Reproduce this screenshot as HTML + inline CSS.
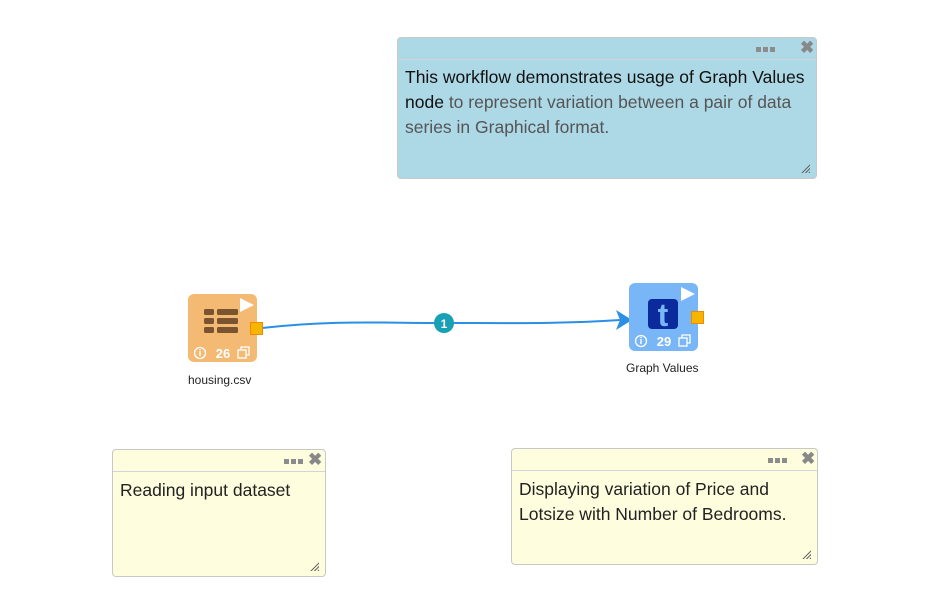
<!DOCTYPE html>
<html><head><meta charset="utf-8"><style>
body{margin:0;width:950px;height:596px;background:#fff;position:relative;overflow:hidden;font-family:"Liberation Sans",sans-serif}
.note{position:absolute;border:1px solid #c8c8c8;border-radius:4px;box-sizing:border-box}
.hdr{position:absolute;left:0;right:0;top:0;height:21px;border-bottom:1px solid #cfd6da}
.dots{position:absolute;top:9px;width:30px;height:5px;white-space:nowrap;font-size:0}
.dots i{display:inline-block;width:5px;height:5px;background:#8c8c8c;margin-right:2px}
.x{position:absolute;top:0;font-size:17px;font-weight:bold;color:#888;line-height:20px}
.txt{position:absolute;left:7px;font-size:17.5px;line-height:25px;color:#222}
.grip{position:absolute;right:6px;bottom:5px;width:9px;height:9px;background:repeating-linear-gradient(135deg,transparent 0 1.5px,#666 1.5px 2.5px);clip-path:polygon(100% 0,100% 100%,0 100%)}
.node{position:absolute;width:69px;height:68px;border-radius:6px}
.lbl{position:absolute;font-size:12px;color:#222}
</style></head><body>

<div class="note" style="left:397px;top:37px;width:420px;height:142px;background:#add8e6">
 <div class="hdr"><div class="dots" style="left:358px"><i></i><i></i><i></i></div><div class="x" style="left:402px">✖</div></div>
 <div class="txt" style="top:27px;width:410px"><span style="color:#111">This workflow demonstrates usage of Graph Values node</span> <span style="color:#555">to represent variation between a pair of data series in Graphical format.</span></div>
 <div class="grip"></div>
</div>

<div class="note" style="left:112px;top:449px;width:214px;height:128px;background:#fefdde">
 <div class="hdr"><div class="dots" style="left:171px"><i></i><i></i><i></i></div><div class="x" style="left:195px">✖</div></div>
 <div class="txt" style="top:28px">Reading input dataset</div>
 <div class="grip"></div>
</div>

<div class="note" style="left:511px;top:448px;width:307px;height:117px;background:#fefdde">
 <div class="hdr"><div class="dots" style="left:256px"><i></i><i></i><i></i></div><div class="x" style="left:289px">✖</div></div>
 <div class="txt" style="top:28px;width:295px">Displaying variation of Price and Lotsize with Number of Bedrooms.</div>
 <div class="grip"></div>
</div>

<svg width="950" height="596" style="position:absolute;left:0;top:0">
 <path d="M262 328 C 330 320, 380 323, 444 323 S 560 324, 620 320" stroke="#2b8fe6" stroke-width="2" fill="none"/>
 <polygon points="616,310 632,320 616,330 620,320" fill="#2b8fe6"/>
 <circle cx="444" cy="323" r="10" fill="#1aa0b4"/>
 <text x="444" y="328" text-anchor="middle" font-size="12" font-weight="bold" fill="#fff" font-family="Liberation Sans">1</text>
</svg>

<div class="node" style="left:188px;top:294px;background:#f4b972">
 <svg width="69" height="68" style="position:absolute;left:0;top:0">
  <polygon points="52,4 66,11 52,18" fill="#fff"/>
  <g fill="#7a5430">
   <rect x="16" y="15" width="10" height="6" rx="1.5"/><rect x="29" y="15" width="21" height="6" rx="1.5"/>
   <rect x="16" y="24" width="10" height="6" rx="1.5"/><rect x="29" y="24" width="21" height="6" rx="1.5"/>
   <rect x="16" y="33" width="10" height="6" rx="1.5"/><rect x="29" y="33" width="21" height="6" rx="1.5"/>
  </g>
  <circle cx="12" cy="59" r="5.5" fill="none" stroke="#fff" stroke-width="1.3"/><rect x="11.3" y="57" width="1.4" height="5" fill="#fff"/><rect x="11.3" y="54.8" width="1.4" height="1.4" fill="#fff"/>
  <rect x="50" y="56" width="8" height="8" fill="none" stroke="#fff" stroke-width="1.3"/><path d="M53 56 V53 H61 V61 H58" fill="none" stroke="#fff" stroke-width="1.3"/>
  <text x="35" y="64" text-anchor="middle" font-size="13" font-weight="bold" fill="#fff" font-family="Liberation Sans">26</text>
 </svg>
</div>
<div style="position:absolute;left:250px;top:322px;width:11px;height:11px;background:#f7b500;border:1px solid #f08a00"></div>
<div class="lbl" style="left:188px;top:373px">housing.csv</div>

<div class="node" style="left:629px;top:283px;background:#79b6f7">
 <svg width="69" height="68" style="position:absolute;left:0;top:0">
  <polygon points="52,4 66,11 52,18" fill="#fff"/>
  <rect x="19" y="16" width="30" height="30" rx="4" fill="#0b2b9c"/>
  <text x="34" y="43" text-anchor="middle" font-size="32" font-weight="bold" fill="#79b6f7" font-family="Liberation Sans">t</text>
  <circle cx="12" cy="58" r="5.5" fill="none" stroke="#fff" stroke-width="1.3"/><rect x="11.3" y="56" width="1.4" height="5" fill="#fff"/><rect x="11.3" y="53.8" width="1.4" height="1.4" fill="#fff"/>
  <rect x="50" y="55" width="8" height="8" fill="none" stroke="#fff" stroke-width="1.3"/><path d="M53 55 V52 H61 V60 H58" fill="none" stroke="#fff" stroke-width="1.3"/>
  <text x="35" y="63" text-anchor="middle" font-size="13" font-weight="bold" fill="#fff" font-family="Liberation Sans">29</text>
 </svg>
</div>
<div style="position:absolute;left:691px;top:311px;width:11px;height:11px;background:#f7b500;border:1px solid #f08a00"></div>
<div class="lbl" style="left:626px;top:361px">Graph Values</div>

</body></html>
